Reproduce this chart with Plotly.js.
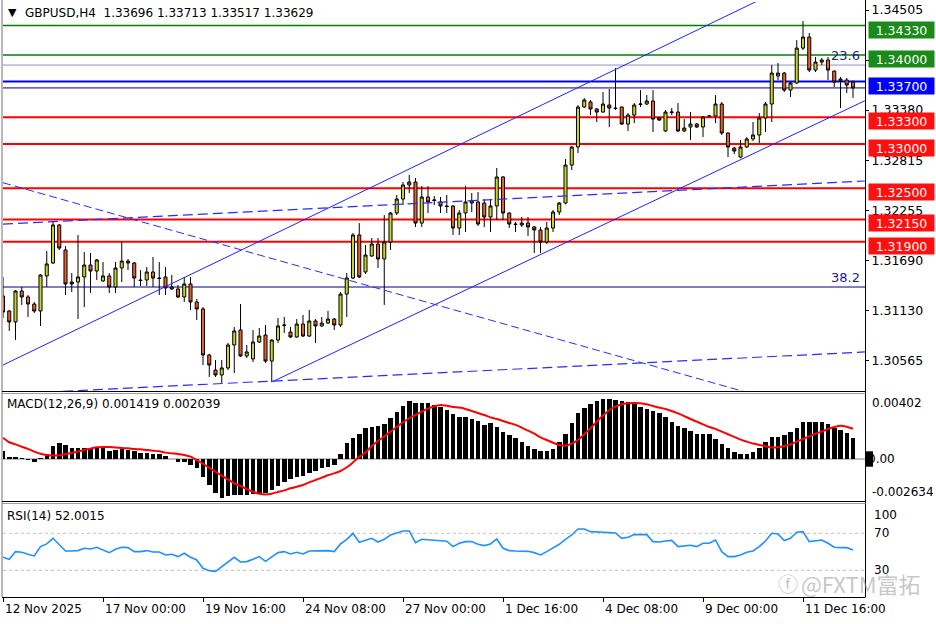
<!DOCTYPE html>
<html><head><meta charset="utf-8">
<script src="https://cdn.plot.ly/plotly-3.0.1.min.js"></script>
<style>html,body{margin:0;padding:0;background:#fff;}#chart{width:936px;height:624px;}</style>
</head><body><div id="chart"></div>
<script>
// ---------------- DATA ----------------
const symbolTitle = "GBPUSD,H4  1.33696 1.33713 1.33517 1.33629";
const openPx = [
1.31290,1.31121,1.30998,1.31346,1.31279,1.31200,1.31121,1.31515,1.31661,1.32088,
1.31807,1.31447,1.31447,1.31504,1.31638,1.31571,1.31459,1.31515,1.31391,1.31605,
1.31683,1.31661,1.31470,1.31470,1.31560,1.31492,1.31504,1.31369,1.31369,1.31279,
1.31425,1.31223,1.31144,1.30627,1.30458,1.30402,1.30481,1.30739,1.30908,1.30616,
1.30582,1.30773,1.30852,1.30559,1.30795,1.30958,1.30885,1.30829,1.30975,1.30840,
1.31009,1.30953,1.30986,1.31031,1.30964,1.31312,1.31492,1.31976,1.31560,1.31740,
1.31874,1.31706,1.31897,1.32223,1.32380,1.32538,1.32571,1.32110,1.32403,1.32363,
1.32347,1.32302,1.32302,1.32054,1.32223,1.32335,1.32347,1.32335,1.32178,1.32302,
1.32628,1.32223,1.32099,1.32088,1.32110,1.32066,1.32032,1.31897,1.32054,1.32234,
1.32335,1.32762,1.32965,1.33414,1.33471,1.33392,1.33358,1.33437,1.33403,1.33414,
1.33223,1.33324,1.33442,1.33448,1.33482,1.33291,1.33145,1.33352,1.33358,1.33145,
1.33190,1.33223,1.33190,1.33308,1.33313,1.33448,1.33122,1.32953,1.32852,1.32965,
1.33055,1.33100,1.33291,1.33448,1.33763,1.33796,1.33605,1.33684,1.34077,1.34201,
1.33830,1.33920,1.33943,1.33819,1.33729,1.33718,1.33696];
const highPx = [
1.31504,1.31133,1.31357,1.31391,1.31301,1.31223,1.31537,1.31796,1.32122,1.32099,
1.31852,1.31548,1.31976,1.31785,1.31773,1.31706,1.31672,1.31548,1.31672,1.31897,
1.31706,1.31672,1.31582,1.31616,1.31728,1.31672,1.31616,1.31526,1.31414,1.31504,
1.31504,1.31256,1.31166,1.30640,1.30571,1.30571,1.30762,1.30942,1.31200,1.30739,
1.30908,1.30930,1.30964,1.30800,1.31043,1.31054,1.30942,1.31031,1.31076,1.31133,
1.31031,1.31054,1.31121,1.31043,1.31335,1.31548,1.31998,1.32110,1.31863,1.31942,
1.31942,1.32200,1.32235,1.32425,1.32571,1.32650,1.32616,1.32526,1.32526,1.32414,
1.32403,1.32425,1.32310,1.32257,1.32526,1.32448,1.32459,1.32380,1.32380,1.32729,
1.32639,1.32230,1.32122,1.32178,1.32178,1.32077,1.32066,1.32122,1.32257,1.32347,
1.32830,1.32975,1.33437,1.33515,1.33493,1.33403,1.33583,1.33617,1.33853,1.33420,
1.33347,1.33459,1.33605,1.33549,1.33605,1.33302,1.33381,1.33403,1.33459,1.33279,
1.33358,1.33234,1.33313,1.33324,1.33549,1.33471,1.33130,1.32965,1.33043,1.33077,
1.33246,1.33347,1.33471,1.33886,1.33909,1.33808,1.33695,1.34167,1.34381,1.34246,
1.33976,1.33965,1.33976,1.33825,1.33752,1.33740,1.33713];
const lowPx = [
1.31043,1.30897,1.30795,1.31189,1.31054,1.31099,1.30953,1.31391,1.31650,1.31807,
1.31301,1.31335,1.31031,1.31166,1.31324,1.31470,1.31447,1.31324,1.31324,1.31447,
1.31582,1.31391,1.31402,1.31402,1.31391,1.31301,1.31301,1.31357,1.31267,1.31223,
1.31133,1.31020,1.30514,1.30380,1.30380,1.30312,1.30458,1.30424,1.30604,1.30593,
1.30548,1.30762,1.30537,1.30323,1.30762,1.30874,1.30818,1.30820,1.30829,1.30829,
1.30762,1.30942,1.30975,1.30908,1.30942,1.31054,1.31481,1.31492,1.31537,1.31730,
1.31605,1.31189,1.31807,1.32200,1.32313,1.32448,1.32066,1.32066,1.32223,1.32313,
1.32223,1.32223,1.31976,1.31976,1.32009,1.32234,1.32077,1.32066,1.32009,1.32144,
1.32144,1.32054,1.32009,1.32066,1.31964,1.31773,1.31773,1.31874,1.32009,1.32200,
1.32320,1.32706,1.32897,1.33403,1.33324,1.33246,1.33350,1.33190,1.33381,1.33212,
1.33145,1.33234,1.33414,1.33437,1.33133,1.33257,1.33133,1.33324,1.33133,1.33133,
1.33043,1.33178,1.33077,1.33302,1.33234,1.33100,1.32852,1.32886,1.32840,1.32953,
1.33032,1.33010,1.33133,1.33246,1.33718,1.33583,1.33527,1.33675,1.34055,1.33808,
1.33808,1.33886,1.33718,1.33639,1.33403,1.33572,1.33517];
const closePx = [
1.31110,1.30998,1.31346,1.31279,1.31200,1.31121,1.31526,1.31650,1.32088,1.31829,
1.31425,1.31425,1.31504,1.31638,1.31571,1.31695,1.31515,1.31391,1.31605,1.31683,
1.31661,1.31492,1.31464,1.31560,1.31492,1.31487,1.31380,1.31391,1.31279,1.31425,
1.31223,1.31144,1.30627,1.30514,1.30402,1.30481,1.30739,1.30897,1.30616,1.30661,
1.30773,1.30840,1.30559,1.30795,1.30953,1.30964,1.30829,1.30975,1.30840,1.31009,
1.30953,1.30986,1.31031,1.30964,1.31312,1.31492,1.31976,1.31504,1.31751,1.31874,
1.31706,1.31897,1.32223,1.32380,1.32538,1.32571,1.32110,1.32403,1.32347,1.32369,
1.32302,1.32296,1.32054,1.32223,1.32347,1.32358,1.32099,1.32178,1.32302,1.32628,
1.32223,1.32099,1.32094,1.32110,1.32066,1.32032,1.31897,1.32054,1.32234,1.32335,
1.32762,1.32965,1.33414,1.33493,1.33392,1.33358,1.33448,1.33403,1.33397,1.33223,
1.33324,1.33437,1.33448,1.33482,1.33279,1.33268,1.33358,1.33358,1.33145,1.33178,
1.33223,1.33190,1.33302,1.33313,1.33448,1.33122,1.32965,1.32920,1.32965,1.33055,
1.33100,1.33291,1.33448,1.33796,1.33796,1.33605,1.33684,1.34077,1.34201,1.33830,
1.33920,1.33943,1.33830,1.33695,1.33707,1.33662,1.33629];
const macdMain = [
0.00054,0.00016,0.00011,0.00009,-0.00007,-0.00023,0.00005,0.00032,0.00088,0.00106,
0.00092,0.00077,0.00072,0.00077,0.00077,0.00081,0.00077,0.00056,0.00059,0.00065,
0.00063,0.00054,0.00041,0.00043,0.00034,0.00034,0.00018,0.00002,-0.00018,-0.00018,
-0.00041,-0.00063,-0.00119,-0.00176,-0.00227,-0.002634,-0.00248,-0.00243,-0.00243,-0.00243,
-0.00234,-0.00232,-0.00232,-0.00209,-0.00182,-0.00153,-0.00137,-0.00124,-0.00113,-0.00097,
-0.00079,-0.00063,-0.00052,-0.00041,0.00036,0.00110,0.00140,0.00169,0.00207,0.00214,
0.00225,0.00236,0.00279,0.00320,0.00360,0.00392,0.00380,0.00380,0.00376,0.00365,
0.00353,0.00331,0.00304,0.00286,0.00281,0.00268,0.00259,0.00230,0.00241,0.00218,
0.00185,0.00162,0.00144,0.00113,0.00088,0.00065,0.00054,0.00054,0.00068,0.00113,
0.00167,0.00241,0.00308,0.00342,0.00371,0.00394,0.00402,0.00402,0.00398,0.00394,
0.00383,0.00369,0.00353,0.00338,0.00324,0.00308,0.00286,0.00252,0.00225,0.00207,
0.00191,0.00169,0.00169,0.00169,0.00135,0.00099,0.00072,0.00050,0.00034,0.00034,
0.00050,0.00072,0.00113,0.00146,0.00151,0.00162,0.00185,0.00212,0.00252,0.00252,
0.00252,0.00248,0.00234,0.00207,0.00196,0.00173,0.001419];
const macdSignal = [
0.00144,0.00113,0.00099,0.00083,0.00068,0.00050,0.00036,0.00027,0.00023,0.00025,
0.00034,0.00041,0.00050,0.00061,0.00070,0.00079,0.00081,0.00081,0.00077,0.00074,
0.00072,0.00068,0.00065,0.00061,0.00056,0.00052,0.00043,0.00038,0.00034,0.00027,
0.00016,-0.00007,-0.00032,-0.00059,-0.00086,-0.00113,-0.00137,-0.00164,-0.00182,-0.00203,
-0.00221,-0.00234,-0.00239,-0.00234,-0.00223,-0.00212,-0.00198,-0.00187,-0.00176,-0.00158,
-0.00142,-0.00126,-0.00110,-0.00097,-0.00081,-0.00056,-0.00023,0.00016,0.00043,0.00088,
0.00122,0.00151,0.00185,0.00216,0.00248,0.00275,0.00297,0.00320,0.00340,0.00356,
0.00365,0.00360,0.00351,0.00347,0.00338,0.00324,0.00311,0.00297,0.00281,0.00270,
0.00257,0.00243,0.00230,0.00212,0.00191,0.00171,0.00146,0.00128,0.00110,0.00095,
0.00090,0.00104,0.00128,0.00167,0.00207,0.00252,0.00293,0.00329,0.00353,0.00369,
0.00376,0.00378,0.00376,0.00369,0.00358,0.00347,0.00338,0.00324,0.00308,0.00290,
0.00270,0.00252,0.00234,0.00216,0.00203,0.00185,0.00167,0.00149,0.00131,0.00117,
0.00104,0.00095,0.00086,0.00077,0.00079,0.00088,0.00099,0.00117,0.00135,0.00153,
0.00171,0.00185,0.00203,0.00216,0.00225,0.00218,0.002039];
const rsi14 = [
44.1,41.9,50.2,49.5,47.3,45.5,55.6,58.5,64.6,58.1,
50.9,50.9,51.3,53.8,53.1,54.9,52.0,49.1,52.7,54.9,
54.5,50.2,50.2,51.3,49.8,49.8,46.6,47.3,44.8,48.4,
44.1,41.2,32.2,29.6,28.9,34.0,39.4,44.1,39.0,39.4,
41.9,44.8,39.7,44.8,49.1,50.2,47.7,49.5,47.7,50.9,
50.9,50.9,51.3,50.2,58.5,63.5,70.0,60.3,62.8,64.6,
60.6,63.5,68.2,70.0,72.5,72.5,59.9,63.5,62.8,62.8,
62.1,61.4,55.6,59.2,61.0,61.0,58.1,56.7,58.5,63.9,
53.8,51.3,50.9,50.9,50.5,49.1,46.6,50.2,54.5,58.1,
63.5,68.2,74.7,74.7,71.8,71.1,71.1,70.7,70.4,64.6,
65.7,68.6,68.6,68.6,61.0,60.6,61.7,62.4,55.6,56.3,
57.0,55.6,59.2,59.2,62.8,50.2,44.8,44.8,46.6,49.5,
50.9,55.6,61.7,70.0,69.3,62.1,64.6,71.1,71.8,61.0,
62.1,62.8,59.2,54.9,54.5,54.5,52.0015];

const timeTickIdx  = [0,16,32,48,64,80,96,112,128];
const timeTickText = ["12 Nov 2025","17 Nov 00:00","19 Nov 16:00","24 Nov 08:00","27 Nov 00:00","1 Dec 16:00","4 Dec 08:00","9 Dec 00:00","11 Dec 16:00"];
const priceTicks = [1.34505,1.33940,1.33380,1.32815,1.32255,1.31690,1.31130,1.30565];
const priceTickText = ["1.34505","","1.33380","1.32815","1.32255","1.31690","1.31130","1.30565"];

const greenLevels = [1.34330,1.34000];
const blueLevels  = [1.33700];
const redLevels   = [1.33300,1.33000,1.32500,1.32150,1.31900];
const bidLevel    = 1.33629;
const fibLevels   = [1.33886,1.31391];
const fibNames    = ["23.6","38.2"];

const upperChannelX = [0,125];    const upperChannelY = [1.30514,1.34752];
const lowerChannelX = [43,137.9]; const lowerChannelY = [1.30323,1.33485];
const descDashX = [0,120];        const descDashY = [1.32563,1.30187];
const riseDashTopX = [0,137.9];   const riseDashTopY = [1.32099,1.32583];
const riseDashLowX = [0,137.9];   const riseDashLowY = [1.30185,1.30661];

const macdTicks = [0.00402,0,-0.002634];
const macdTickText = ["0.00402","0.00","-0.002634"];
const rsiTicks = [100,70,30,0];
const rsiLevels = [70,30];

// ---------------- LAYOUT HELPERS ----------------
const W=936,H=624;
const px=x=>x/W, py=y=>1-y/H;
const idx = openPx.map((_,i)=>i);
const FONT = "DejaVu Sans, Verdana, sans-serif";

const traces = [];
traces.push({type:'candlestick',x:idx,open:openPx,high:highPx,low:lowPx,close:closePx,
  xaxis:'x',yaxis:'y',whiskerwidth:0,hoverinfo:'skip',showlegend:false,
  increasing:{fillcolor:'#c8d42c',line:{color:'#000',width:1}},
  decreasing:{fillcolor:'#e8602a',line:{color:'#000',width:1}}});
function tl(x,y,color,dash,width){traces.push({type:'scatter',mode:'lines',x:x,y:y,xaxis:'x',yaxis:'y',
  line:{color:color,dash:dash,width:width},hoverinfo:'skip',showlegend:false});}
tl(upperChannelX,upperChannelY,'#2020ff','solid',1);
tl(lowerChannelX,lowerChannelY,'#2020ff','solid',1);
tl(descDashX,descDashY,'#2a2aff','8px,4px',1);
tl(riseDashTopX,riseDashTopY,'#2a2aff','10px,5px',1.2);
tl(riseDashLowX,riseDashLowY,'#2a2aff','10px,5px',1.2);

traces.push({type:'bar',x:idx,y:macdMain,xaxis:'x',yaxis:'y2',width:0.72,
  marker:{color:'#000',line:{width:0}},hoverinfo:'skip',showlegend:false});
traces.push({type:'scatter',mode:'lines',x:idx,y:macdSignal,xaxis:'x',yaxis:'y2',
  line:{color:'#ff0000',width:2,shape:'spline',smoothing:0.6},hoverinfo:'skip',showlegend:false});
traces.push({type:'scatter',mode:'lines',x:idx,y:rsi14,xaxis:'x',yaxis:'y3',
  line:{color:'#1e90ff',width:1.6},hoverinfo:'skip',showlegend:false});

const shapes=[], ann=[];
const xl=px(3), xr=px(865);
function hline(v,yref,color,width,dash){shapes.push({type:'line',xref:'paper',yref:yref,x0:xl,x1:xr,y0:v,y1:v,
  line:{color:color,width:width,dash:dash||'solid'},layer:'below'});}
greenLevels.forEach(v=>hline(v,'y','#008000',1.6));
hline(fibLevels[0],'y','#9090b8',1);
blueLevels.forEach(v=>hline(v,'y','#0000ff',2));
hline(bidLevel,'y','#000080',1);
redLevels.forEach(v=>hline(v,'y','#ff0000',2));
hline(fibLevels[1],'y','#000080',1);
hline(0,'y2','#808080',1);
rsiLevels.forEach(v=>hline(v,'y3','#c0c0c0',1,'dot'));

function pline(x0,y0,x1,y1,color,w){shapes.push({type:'line',xref:'paper',yref:'paper',
  x0:px(x0),y0:py(y0),x1:px(x1),y1:py(y1),line:{color:color,width:w}});}
pline(2,0,2,597,'#a0a0a0',1.5);
pline(865.5,0,865.5,597,'#000',1);
pline(2,391.5,865.5,391.5,'#000',1);
pline(2,393.5,865.5,393.5,'#a0a0a0',1);
pline(2,501.5,865.5,501.5,'#000',1);
pline(2,503.5,865.5,503.5,'#a0a0a0',1);
pline(2,597.5,865.5,597.5,'#000',1);

function box(v,bg){ann.push({xref:'paper',yref:'y',x:px(868),y:v,xanchor:'left',yanchor:'middle',yshift:-4,
  text:v.toFixed(5),showarrow:false,bgcolor:bg,width:63,height:14,borderpad:1,align:'center',
  font:{family:FONT,size:12.5,color:'#fff'}});}
greenLevels.forEach(v=>box(v,'#1a8a1a'));
blueLevels.forEach(v=>box(v,'#0000ff'));
redLevels.forEach(v=>box(v,'#ff1010'));

fibLevels.forEach((v,i)=>ann.push({xref:'paper',yref:'y',x:px(862),y:v,xanchor:'right',yanchor:'bottom',yshift:0,
  text:fibNames[i],showarrow:false,font:{family:FONT,size:13,color:'#1c1c8c'}}));

ann.push({xref:'paper',yref:'paper',x:px(6),y:py(12),xanchor:'left',yanchor:'middle',text:'▼',showarrow:false,
  font:{family:FONT,size:11,color:'#000'}});
ann.push({xref:'paper',yref:'paper',x:px(23),y:py(13),xanchor:'left',yanchor:'middle',text:symbolTitle.replace('  ','&nbsp; '),showarrow:false,
  font:{family:FONT,size:12,color:'#000'}});
ann.push({xref:'paper',yref:'paper',x:px(5),y:py(404),xanchor:'left',yanchor:'middle',
  text:'MACD(12,26,9) '+macdMain[macdMain.length-1].toFixed(6)+' '+macdSignal[macdSignal.length-1].toFixed(6),
  showarrow:false,font:{family:FONT,size:12,color:'#000'}});
ann.push({xref:'paper',yref:'paper',x:px(5),y:py(516),xanchor:'left',yanchor:'middle',
  text:'RSI(14) '+rsi14[rsi14.length-1].toFixed(4),showarrow:false,font:{family:FONT,size:12,color:'#000'}});

shapes.push({type:'rect',xref:'paper',yref:'y2',x0:px(866),x1:px(873),y0:-0.00052,y1:0.00052,fillcolor:'#000',line:{width:0}});
const macdShift=[-4,0,6];
const macdX=[870,866,870];
macdTicks.forEach((v,i)=>ann.push({xref:'paper',yref:'y2',x:px(macdX[i]),y:v,xanchor:'left',yanchor:'middle',yshift:macdShift[i],
  text:macdTickText[i],showarrow:false,font:{family:FONT,size:12,color:'#000'}}));
const rsiShift=[-9,0,0,10];
rsiTicks.forEach((v,i)=>ann.push({xref:'paper',yref:'y3',x:px(872),y:v,xanchor:'left',yanchor:'middle',yshift:rsiShift[i],
  text:String(v),showarrow:false,font:{family:FONT,size:12,color:'#000'}}));

timeTickIdx.forEach((t,i)=>ann.push({xref:'x',yref:'paper',x:t,y:py(609),xanchor:'left',yanchor:'middle',xshift:0,
  text:timeTickText[i],showarrow:false,font:{family:FONT,size:12,color:'#000'}}));

ann.push({xref:'paper',yref:'paper',x:px(788),y:py(583),xanchor:'center',yanchor:'middle',text:'ⓕ',showarrow:false,
  font:{family:'Noto Sans CJK SC',size:20,color:'rgba(150,150,150,0.6)'}});
ann.push({xref:'paper',yref:'paper',x:px(799),y:py(583),xanchor:'left',yanchor:'middle',text:'@FXTM富拓',showarrow:false,
  font:{family:'Noto Sans CJK SC',size:22,color:'rgba(150,150,150,0.55)'}});

const layout={width:W,height:H,margin:{l:0,r:0,t:0,b:0},paper_bgcolor:'#fff',plot_bgcolor:'#fff',
  showlegend:false,hovermode:false,dragmode:false,
  xaxis:{domain:[xl,xr],range:[0,137.92],anchor:'y3',showgrid:false,zeroline:false,showline:false,
    rangeslider:{visible:false},tickmode:'array',tickvals:timeTickIdx,ticktext:timeTickIdx.map(()=>''),
    ticks:'outside',ticklen:4,tickcolor:'#000',showticklabels:false},
  yaxis:{domain:[py(391),py(2)],range:[1.30222,1.34595],side:'right',anchor:'x',showgrid:false,zeroline:false,
    tickmode:'array',tickvals:priceTicks,ticktext:priceTickText,ticks:'outside',ticklen:3,tickcolor:'#000',
    tickfont:{family:FONT,size:12.5,color:'#000'},showline:false},
  yaxis2:{domain:[py(501),py(394)],range:[-0.002835,0.0043875],anchor:'x',showgrid:false,zeroline:false,showticklabels:false,ticks:''},
  yaxis3:{domain:[py(597),py(504)],range:[1.1,101.7],anchor:'x',showgrid:false,zeroline:false,showticklabels:false,ticks:''},
  bargap:0,shapes:shapes,annotations:ann};
Plotly.newPlot('chart',traces,layout,{staticPlot:true,displayModeBar:false});
</script></body></html>
